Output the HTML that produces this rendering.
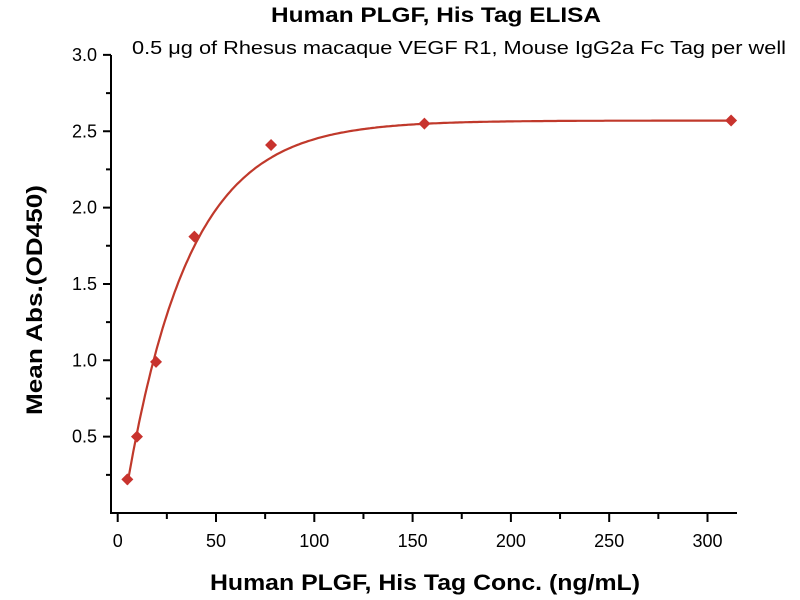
<!DOCTYPE html>
<html><head><meta charset="utf-8"><style>body{margin:0;background:#fff}svg{display:block}</style></head>
<body>
<svg id="s" width="800" height="600" xmlns="http://www.w3.org/2000/svg" font-family="'Liberation Sans',sans-serif">
<text x="436" y="22" text-anchor="middle" font-size="21" font-weight="bold" textLength="330" lengthAdjust="spacingAndGlyphs">Human PLGF, His Tag ELISA</text>
<text x="132" y="54" font-size="18" textLength="654" lengthAdjust="spacingAndGlyphs">0.5 μg of Rhesus macaque VEGF R1, Mouse IgG2a Fc Tag per well</text>
<g stroke="#000" stroke-width="2" fill="none">
<path d="M111,55 V513 H737"/>
<path id="ticks" d=""/>
</g>
<g font-size="18" text-anchor="end" id="yl"></g>
<g font-size="18" text-anchor="middle" id="xl"></g>
<text transform="translate(42,300) rotate(-90)" text-anchor="middle" font-size="22" font-weight="bold" textLength="230" lengthAdjust="spacingAndGlyphs">Mean Abs.(OD450)</text>
<text x="425" y="590" text-anchor="middle" font-size="22" font-weight="bold" textLength="430" lengthAdjust="spacingAndGlyphs">Human PLGF, His Tag Conc. (ng/mL)</text>
<path id="curve" fill="none" stroke="#c0392b" stroke-width="2.2"/>
<g id="pts" fill="#c8332e"></g>
</svg>
<script>
const X=v=>117.7+v*1.966, Y=v=>513-v*152.7;
let t="";
for(let v=0.25;v<=3.001;v+=0.25){const y=Y(v);t+=`M111,${y}h-${(Math.round(v*100)%50==0)?8:5}`;}
for(let v=0;v<=300;v+=25){const x=X(v);t+=`M${x},513v${v%50==0?9:6}`;}
document.getElementById('ticks').setAttribute('d',t);
let yl="",xl="";
for(let v=0.5;v<=3.001;v+=0.5)yl+=`<text x="97" y="${Y(v)+6}">${v.toFixed(1)}</text>`;
for(let v=0;v<=300;v+=50)xl+=`<text x="${X(v)}" y="547">${v}</text>`;
document.getElementById('yl').innerHTML=yl;document.getElementById('xl').innerHTML=xl;
const f=x=>2.57*(1-Math.exp(-(x-2.5)/32));
let d="";for(let x=4.9;x<=312.5;x+=1)d+=(d?"L":"M")+X(x).toFixed(1)+","+Y(f(x)).toFixed(1);
document.getElementById('curve').setAttribute('d',d);
const P=[[4.9,0.22],[9.8,0.5],[19.5,0.99],[39,1.81],[78,2.41],[156,2.55],[312,2.57]];
let p="";for(const[a,b]of P){const x=X(a),y=Y(b);p+=`<path d="M${x},${y-6}L${x+6},${y}L${x},${y+6}L${x-6},${y}Z"/>`;}
document.getElementById('pts').innerHTML=p;
</script>
</body></html>
